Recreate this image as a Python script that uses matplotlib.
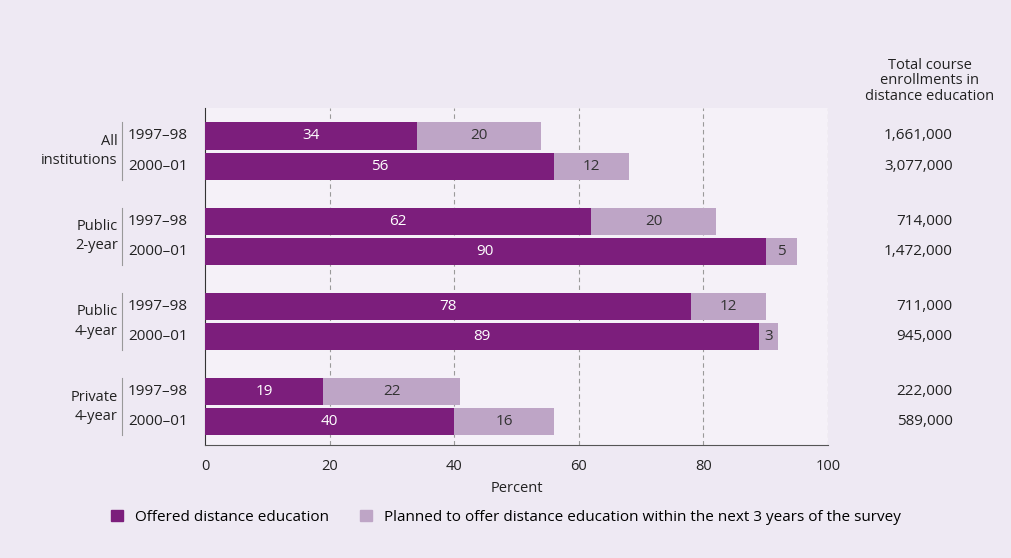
import matplotlib.pyplot as plt
import numpy as np

groups = ['All\ninstitutions', 'Public\n2-year', 'Public\n4-year', 'Private\n4-year']
years = ['1997\u201398', '2000\u201301']
offered = [[34, 56], [62, 90], [78, 89], [19, 40]]
planned = [[20, 12], [20, 5], [12, 3], [22, 16]]
enrollments = [['1,661,000', '3,077,000'], ['714,000', '1,472,000'],
               ['711,000', '945,000'], ['222,000', '589,000']]

purple = '#7C1E7C'
mauve = '#BEA5C6'
bg = '#EEE9F3'

plt.rcParams['font.family'] = ['Open Sans', 'DejaVu Sans']

fig = plt.figure(figsize=(10.12, 5.58), dpi=100, facecolor=bg)
ax = fig.add_axes([0.2026, 0.2025, 0.6156, 0.6040])
ax.set_facecolor('#F5F1F8')

gap = 2.83
height = 0.9
for g in range(len(groups)):
    for k in range(2):
        y = g * gap + k
        o = offered[g][k]
        p = planned[g][k]
        ax.barh(y, o, height=height, color=purple, zorder=3)
        ax.barh(y, p, left=o, height=height, color=mauve, zorder=3)
        ax.text(o / 2, y, str(o), ha='center', va='center', color='white', fontsize=11, zorder=4)
        ax.text(o + p / 2, y, str(p), ha='center', va='center', color='#333333', fontsize=11, zorder=4)
        ax.text(-12.4, y, years[k], ha='left', va='center', fontsize=11, color='#222222', clip_on=False)
        ax.text(120, y, enrollments[g][k], ha='right', va='center', fontsize=11, color='#222222', clip_on=False)
    ax.text(-14, g * gap + 0.5, groups[g], ha='right', va='center', fontsize=10.5,
            color='#222222', linespacing=1.4, clip_on=False)
    ax.plot([-13.3, -13.3], [g * gap - 0.45, g * gap + 1.45], color='#999999', lw=0.8, clip_on=False)

ax.text(116.3, -1.07, 'Total course\nenrollments in\ndistance education', ha='center', va='bottom',
        fontsize=10.5, color='#222222', linespacing=1.05, clip_on=False)

ax.set_xlim(0, 100)
ax.set_ylim(3 * gap + 1 + 0.77, -0.93)
ax.set_xticks(np.arange(0, 101, 20))
ax.set_yticks([])
for x in [20, 40, 60, 80, 100]:
    ax.axvline(x, color='#9A9A9A', lw=0.8, ls=(0, (4, 3)), zorder=1)
for s in ['top', 'right']:
    ax.spines[s].set_visible(False)
ax.spines['left'].set_color('#333333')
ax.spines['bottom'].set_color('#555555')
ax.tick_params(axis='x', length=0, pad=10, labelsize=10.5, labelcolor='#222222')
ax.set_xlabel('Percent', fontsize=10.5, color='#222222', labelpad=5)

handles = [plt.Rectangle((0, 0), 1, 1, color=purple), plt.Rectangle((0, 0), 1, 1, color=mauve)]
fig.legend(handles, ['Offered distance education',
                     'Planned to offer distance education within the next 3 years of the survey'],
           loc='center', bbox_to_anchor=(0.5, 0.073), ncol=2, frameon=False, fontsize=11,
           handlelength=0.8, handleheight=0.8, columnspacing=2.0, handletextpad=0.8)

fig.savefig('out.png', dpi=100, facecolor=bg)
